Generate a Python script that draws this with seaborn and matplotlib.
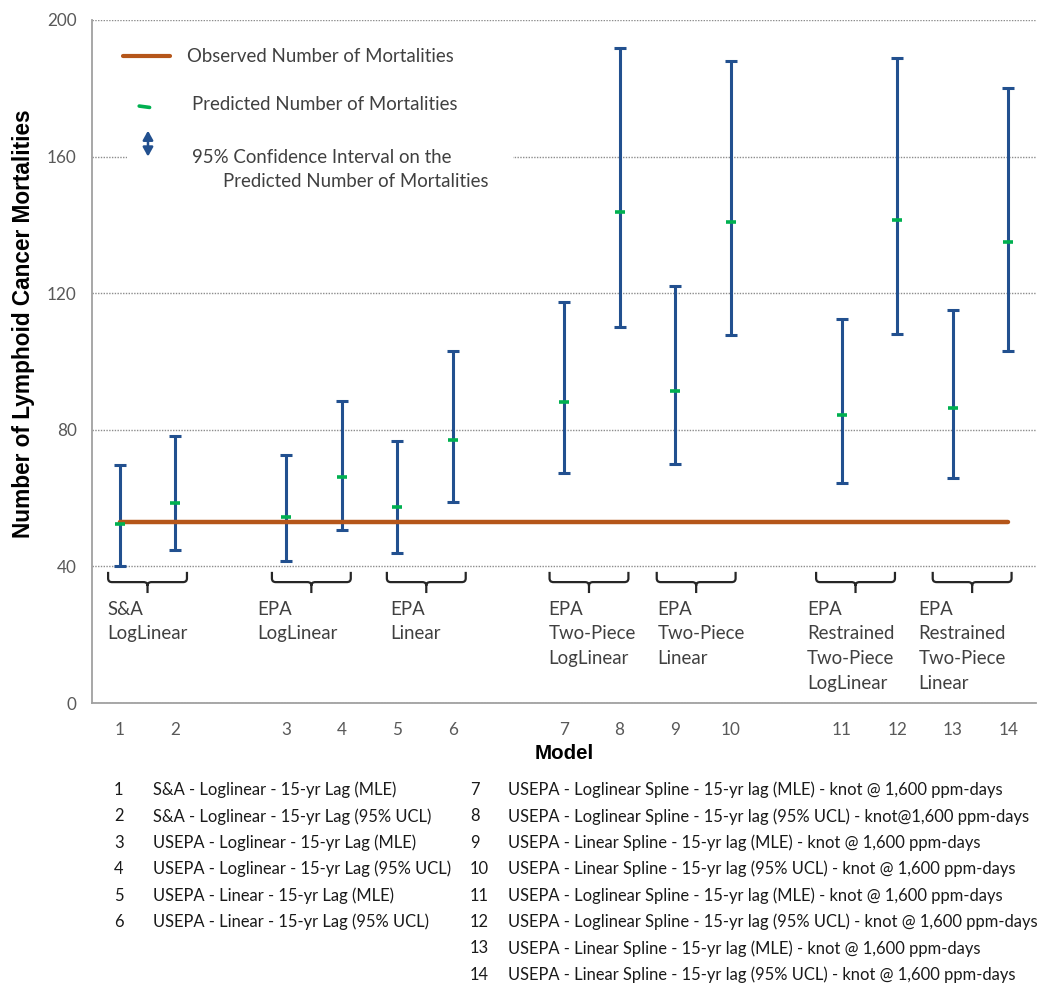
import numpy as np
import pandas as pd
import matplotlib
matplotlib.use("Agg")
import matplotlib.pyplot as plt
import seaborn as sns
from matplotlib.path import Path
from matplotlib.patches import PathPatch, Rectangle
from matplotlib.lines import Line2D

# x axis slots (blank strings are the gaps between model families)
categories = ['1', '2', '', '3', '4', '5', '6', '', '7', '8', '9', '10', '', '11', '12', '13', '14']
models = ['1', '2', '3', '4', '5', '6', '7', '8', '9', '10', '11', '12', '13', '14']
predicted = [52.3, 58.5, 54.4, 66.1, 57.5, 77.1, 88.1, 143.9, 91.5, 140.8, 84.4, 141.4, 86.3, 135.0]
ci_lower = [40.0, 44.8, 41.6, 50.6, 43.8, 58.9, 67.3, 110.1, 70.0, 107.7, 64.4, 108.1, 65.8, 103.2]
ci_upper = [69.7, 78.3, 72.5, 88.5, 76.7, 103.0, 117.5, 191.9, 122.0, 187.9, 112.5, 189.0, 115.0, 180.1]
observed = 53

group_labels = ['S&A\nLogLinear', 'EPA\nLogLinear', 'EPA\nLinear', 'EPA\nTwo-Piece\nLogLinear',
                'EPA\nTwo-Piece\nLinear', 'EPA\nRestrained\nTwo-Piece\nLogLinear',
                'EPA\nRestrained\nTwo-Piece\nLinear']
model_desc = [
    'S&A - Loglinear - 15-yr Lag (MLE)',
    'S&A - Loglinear - 15-yr Lag (95% UCL)',
    'USEPA - Loglinear - 15-yr Lag (MLE)',
    'USEPA - Loglinear - 15-yr Lag (95% UCL)',
    'USEPA - Linear - 15-yr Lag (MLE)',
    'USEPA - Linear - 15-yr Lag (95% UCL)',
    'USEPA - Loglinear Spline - 15-yr lag (MLE) - knot @ 1,600 ppm-days',
    'USEPA - Loglinear Spline - 15-yr lag (95% UCL) - knot@1,600 ppm-days',
    'USEPA - Linear Spline - 15-yr lag (MLE) - knot @ 1,600 ppm-days',
    'USEPA - Linear Spline - 15-yr lag (95% UCL) - knot @ 1,600 ppm-days',
    'USEPA - Loglinear Spline - 15-yr lag (MLE) - knot @ 1,600 ppm-days',
    'USEPA - Loglinear Spline - 15-yr lag (95% UCL) - knot @ 1,600 ppm-days',
    'USEPA - Linear Spline - 15-yr lag (MLE) - knot @ 1,600 ppm-days',
    'USEPA - Linear Spline - 15-yr lag (95% UCL) - knot @ 1,600 ppm-days',
]

# layout of the hand drawn braces (slot units)
brace_centers = [0.5, 3.45, 5.52, 8.45, 10.38, 13.25, 15.35]
label_left = [-0.23, 2.48, 4.88, 7.72, 9.68, 12.38, 14.38]

BLUE = '#22508F'
GREEN = '#00B050'
ORANGE = '#B5561A'
GRAY = '#404040'

sns.set_style("white")
plt.rcParams['font.family'] = ['Lato', 'DejaVu Sans']

df = pd.DataFrame({'model': models, 'predicted': predicted, 'lower': ci_lower, 'upper': ci_upper})
slot = {c: i for i, c in enumerate(categories) if c}
df['pos'] = df['model'].map(slot)

fig = plt.figure(figsize=(10.49, 9.84), dpi=100)
ax = fig.add_axes([92 / 1049, 1 - 703 / 984, 944 / 1049, 683 / 984])

ax.errorbar(df['pos'], df['predicted'],
            yerr=[df['predicted'] - df['lower'], df['upper'] - df['predicted']],
            fmt='none', ecolor=BLUE, elinewidth=2.2, capsize=4, capthick=2.2, zorder=3)

obs = pd.DataFrame({'pos': [df['pos'].min(), df['pos'].max()], 'value': [observed, observed]})
sns.lineplot(data=obs, x='pos', y='value', color=ORANGE, linewidth=3.2, ax=ax, zorder=4,
             solid_capstyle='round')

sns.scatterplot(data=df, x='pos', y='predicted', marker='_', s=60, color=GREEN,
                linewidth=2.6, ax=ax, zorder=5)

ax.set_xlim(-0.5, len(categories) - 0.5)
ax.set_ylim(0, 200)
ax.set_yticks(np.arange(0, 201, 40))
ax.set_xticks(range(len(categories)))
ax.set_xticklabels(categories)
ax.set_xticks(np.arange(-0.5, len(categories), 1), minor=True)
ax.tick_params(axis='x', which='major', length=0, pad=14, labelsize=12.3, labelcolor='#595959')
ax.tick_params(axis='x', which='minor', length=5, width=1, color='#a0a0a0', direction='out')
ax.tick_params(axis='y', length=5, width=1, color='#a0a0a0', direction='out', pad=6,
               labelsize=12.3, labelcolor='#595959')
ax.yaxis.grid(True, linestyle=(0, (1, 1)), color='#8c8c8c', linewidth=1)
ax.set_axisbelow(True)
for s in ['top', 'right']:
    ax.spines[s].set_visible(False)
for s in ['left', 'bottom']:
    ax.spines[s].set_color('#a0a0a0')
    ax.spines[s].set_linewidth(1.3)

ax.set_ylabel('Number of Lymphoid Cancer Mortalities', fontsize=16.3, fontweight='bold',
              family='Liberation Sans', color='black')
ax.yaxis.set_label_coords(-0.060, 0.556)
ax.set_xlabel('Model', fontsize=14.8, fontweight='bold', family='Liberation Sans', color='black')
ax.xaxis.set_label_coords(0.5, -0.06)

# braces and family labels under the 40 line
half, top, mid, tip, rx, ry = 0.71, 38.4, 35.4, 32.2, 0.07, 1.1
for c, lx, lab in zip(brace_centers, label_left, group_labels):
    l, r = c - half, c + half
    verts = [(l, top), (l, mid + ry), (l, mid), (l + rx, mid), (c - rx, mid), (c, mid), (c, mid - ry),
             (c, tip), (c, mid - ry), (c, mid), (c + rx, mid), (r - rx, mid), (r, mid), (r, mid + ry),
             (r, top)]
    codes = [Path.MOVETO, Path.LINETO, Path.CURVE3, Path.CURVE3, Path.LINETO, Path.CURVE3, Path.CURVE3,
             Path.LINETO, Path.MOVETO, Path.CURVE3, Path.CURVE3, Path.LINETO, Path.CURVE3, Path.CURVE3,
             Path.LINETO]
    ax.add_patch(PathPatch(Path(verts, codes), fill=False, edgecolor='#262626', linewidth=1.6, zorder=3))
    ax.text(lx, 30.0, lab, ha='left', va='top', fontsize=13.4, color=GRAY, linespacing=1.55)

# legend drawn as in the source figure
ax.add_patch(Rectangle((0.037, 0.736), 0.409, 0.235, transform=ax.transAxes,
                       facecolor='white', edgecolor='none', zorder=2.5))
ax.add_line(Line2D([0.033, 0.083], [0.947, 0.947], transform=ax.transAxes, color=ORANGE,
                   linewidth=3, zorder=3))
ax.add_line(Line2D([0.050, 0.061], [0.874, 0.872], transform=ax.transAxes, color=GREEN,
                   linewidth=2.6, zorder=3))
ax.annotate('', xy=(0.0593, 0.800), xytext=(0.0593, 0.838), xycoords='axes fraction',
            arrowprops=dict(arrowstyle='<|-|>,head_length=0.45,head_width=0.25', color=BLUE,
                            lw=1.8, mutation_scale=12, shrinkA=0, shrinkB=0), zorder=3)
leg_kw = dict(transform=ax.transAxes, fontsize=13.4, color=GRAY, va='center', ha='left', zorder=3)
ax.text(0.1006, 0.947, 'Observed Number of Mortalities', **leg_kw)
ax.text(0.106, 0.876, 'Predicted Number of Mortalities', **leg_kw)
ax.text(0.106, 0.799, '95% Confidence Interval on the', **leg_kw)
ax.text(0.139, 0.764, 'Predicted Number of Mortalities', **leg_kw)

# model key below the chart
for i, desc in enumerate(model_desc):
    if i < 6:
        nx, tx, row = 114, 153, i
    else:
        nx, tx, row = 470, 508, i - 6
    y = 1 - (790 + row * 26.4) / 984
    fig.text(nx / 1049, y, models[i], fontsize=11.9, color='#1a1a1a', va='center', ha='left')
    fig.text(tx / 1049, y, desc, fontsize=11.9, color='#1a1a1a', va='center', ha='left')

fig.savefig('out.png', dpi=100)
